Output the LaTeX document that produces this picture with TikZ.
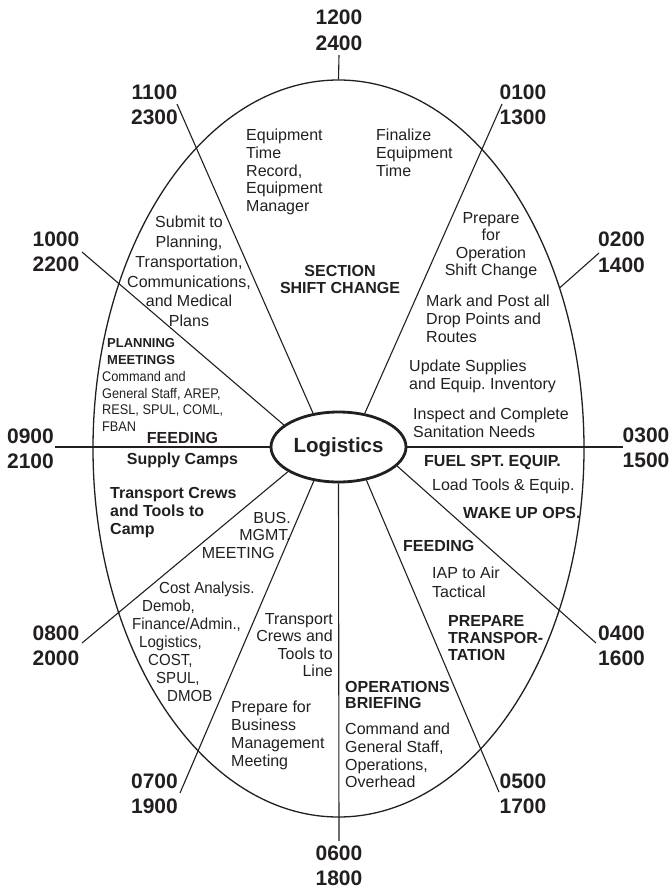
\documentclass[tikz,border=0pt]{standalone}
\usepackage{fontspec}
\setmainfont{Liberation Sans}
\newfontfamily\narrowfont[FakeStretch=0.91]{Liberation Sans}
\newfontfamily\slimfont[FakeStretch=0.94]{Liberation Sans}
\usetikzlibrary{shapes.geometric}
\definecolor{ink}{HTML}{231F20}
\frenchspacing
\begin{document}
\begin{tikzpicture}[x=1pt,y=-1pt,
  every node/.style={inner sep=0pt,text=ink},
  hour/.style={font=\bfseries\fontsize{21}{25.5}\selectfont,align=center},
  spoke/.style={draw=ink,line width=1.1pt},
  body/.style={font=\fontsize{16}{17.7}\selectfont},
  bbody/.style={font=\bfseries\fontsize{16}{17.2}\selectfont},
  smallbold/.style={font=\bfseries\fontsize{13}{17}\selectfont},
  narrowtxt/.style={font=\narrowfont\fontsize{14}{16.7}\selectfont},
  slimtxt/.style={font=\slimfont\fontsize{16}{18}\selectfont}
]
\useasboundingbox (0,0) rectangle (672,889);

% outer rim of the clock face
\node[ellipse,draw=ink,line width=1.3pt,minimum width=491pt,minimum height=737pt] (rim) at (338.5,448.5) {};
% hub
\node[ellipse,draw=ink,line width=2.8pt,minimum width=135pt,minimum height=70pt,
      font=\bfseries\fontsize{20.5}{24}\selectfont] (log) at (338.5,447) {Logistics};

% outer ends of the hour spokes
\coordinate (e1200) at (339,55);
\coordinate (e0100) at (502,104);
\coordinate (e0200) at (599,253);
\coordinate (e0300) at (623,447);
\coordinate (e0400) at (596,643);
\coordinate (e0500) at (499,792);
\coordinate (e0600) at (339,841);
\coordinate (e0700) at (180,793);
\coordinate (e0800) at (82,643);
\coordinate (e0900) at (55,447);
\coordinate (e1000) at (82,252);
\coordinate (e1100) at (177,104);

% spokes
\draw[spoke] (rim.north) -- (e1200);
\draw[spoke] (log.52) -- (e0100);
\draw[spoke] (rim.36.4) -- (e0200);
\draw[spoke] (log.east) -- (e0300);
\draw[spoke] (log.342) -- (e0400);
\draw[spoke] (log.310) -- (e0500);
\draw[spoke] (log.south) -- (e0600);
\draw[spoke] (log.234) -- (e0700);
\draw[spoke] (log.206) -- (e0800);
\draw[spoke] (log.west) -- (e0900);
\draw[spoke] (log.158) -- (e1000);
\draw[spoke] (log.127) -- (e1100);

% hour labels
\node[hour] (h1200) at (339,30.5) {1200\\2400};
\node[hour] (h0100) at (523,105) {0100\\1300};
\node[hour] (h0200) at (621.5,252.5) {0200\\1400};
\node[hour] (h0300) at (646,448) {0300\\1500};
\node[hour] (h0400) at (621.5,646) {0400\\1600};
\node[hour] (h0500) at (523,794) {0500\\1700};
\node[hour] (h0600) at (339,866) {0600\\1800};
\node[hour] (h0700) at (154.5,794) {0700\\1900};
\node[hour] (h0800) at (56,646) {0800\\2000};
\node[hour] (h0900) at (30.5,449) {0900\\2100};
\node[hour] (h1000) at (56,252) {1000\\2200};
\node[hour] (h1100) at (154.5,105) {1100\\2300};

% activities
\node[body,align=left,anchor=north west] (eqrec) at (246,129) {Equipment\\Time\\Record,\\Equipment\\Manager};
\node[body,align=left,anchor=north west] (final) at (376,129) {Finalize\\Equipment\\Time};
\node[body,align=center,anchor=north,font=\fontsize{16}{19.8}\selectfont] (submit) at (189,216)
  {Submit to\\Planning,\\Transportation,\\Communications,\\and Medical\\Plans};
\node[bbody,align=center,anchor=north] (shift) at (340,265) {SECTION\\SHIFT CHANGE};
\node[body,align=center,anchor=north,font=\fontsize{16}{17.4}\selectfont] (prepop) at (491,212)
  {Prepare\\for\\Operation\\Shift Change};
\node[body,align=left,anchor=north west] (mark) at (426,295) {Mark and Post all\\Drop Points and\\Routes};
\node[body,align=left,anchor=north west] (update) at (409,360) {Update Supplies\\and Equip. Inventory};
\node[body,align=left,anchor=north west] (inspect) at (413,408) {Inspect and Complete\\Sanitation Needs};
\node[bbody,anchor=north west] (fuel) at (424,455) {FUEL SPT. EQUIP.};
\node[body,anchor=north west] (load) at (432,479) {Load Tools \& Equip.};
\node[bbody,anchor=north west] (wake) at (463,507) {WAKE UP OPS.};
\node[bbody,anchor=north west] (feedr) at (403,540) {FEEDING};
\node[body,align=left,anchor=north west,font=\fontsize{16}{18.5}\selectfont] (iap) at (432,567) {IAP to Air\\Tactical};
\node[bbody,align=left,anchor=north west] (preptr) at (448,615) {PREPARE\\TRANSPOR-\\TATION};
\node[bbody,align=left,anchor=north west,font=\bfseries\fontsize{16}{16.5}\selectfont] (opsb) at (345,681) {OPERATIONS\\BRIEFING};
\node[body,align=left,anchor=north west] (opsw) at (345,723) {Command and\\General Staff,\\Operations,\\Overhead};
\node[body,align=right,anchor=north east,font=\fontsize{16}{17.4}\selectfont] (trline) at (333,613) {Transport\\Crews and\\Tools to\\Line};
\node[body,align=left,anchor=north west,font=\fontsize{16}{18}\selectfont] (prepbus) at (231,701) {Prepare for\\Business\\Management\\Meeting};
\node[slimtxt,align=left,anchor=north west] (cost) at (132,582)
  {\hspace*{27pt}Cost Analysis.\\\hspace*{10pt}Demob,\\Finance/Admin.,\\\hspace*{7pt}Logistics,\\\hspace*{16pt}COST,\\\hspace*{24pt}SPUL,\\\hspace*{35pt}DMOB};
\node[body,align=right,anchor=north east,font=\fontsize{16}{17.5}\selectfont] (busm) at (291,512) {BUS.\\MGMT.\\MEETING\hspace*{16pt}};
\node[bbody,align=left,anchor=north west,font=\bfseries\fontsize{16}{18}\selectfont] (trcamp) at (110,487) {Transport Crews\\and Tools to\\Camp};
\node[bbody,align=center,anchor=north,font=\bfseries\fontsize{16}{21}\selectfont] (feedl) at (182.5,432) {FEEDING\\Supply Camps};
\node[smallbold,align=left,anchor=north west] (planm) at (107,338) {PLANNING\\MEETINGS};
\node[narrowtxt,align=left,anchor=north west] (planw) at (102,371) {Command and\\General Staff, AREP,\\RESL, SPUL, COML,\\FBAN};
\end{tikzpicture}
\end{document}
